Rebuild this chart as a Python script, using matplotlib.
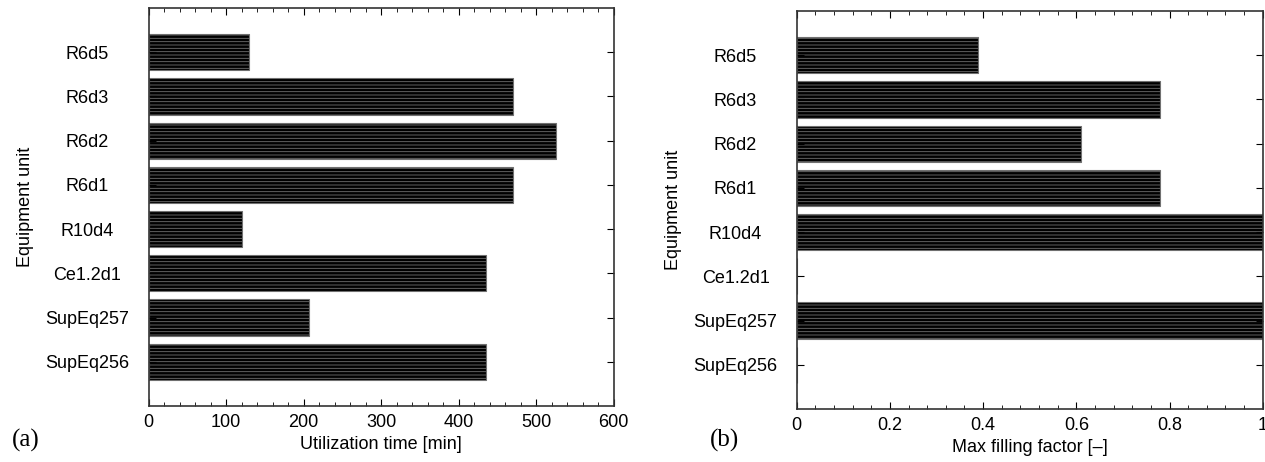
import matplotlib.pyplot as plt
from matplotlib.ticker import MultipleLocator, FormatStrFormatter

units = ['R6d5', 'R6d3', 'R6d2', 'R6d1', 'R10d4', 'Ce1.2d1', 'SupEq257', 'SupEq256']
util_time = [129, 470, 525, 470, 120, 435, 207, 435]
fill_factor = [0.388, 0.779, 0.610, 0.779, 1.0, 0.0, 1.0, 0.0]

plt.rcParams['font.family'] = ['Liberation Sans', 'DejaVu Sans']
plt.rcParams['hatch.color'] = '#444444'
plt.rcParams['hatch.linewidth'] = 0.6

fig = plt.figure(figsize=(12.65, 4.62), dpi=100)
ax1 = fig.add_axes([0.1175, 0.1212, 0.3676, 0.8615])
ax2 = fig.add_axes([0.6298, 0.1147, 0.3684, 0.8615])

ypos = list(range(len(units), 0, -1))


def style(ax, values, xlim, major, minor, xlabel):
    ax.barh(ypos, values, height=0.82, color='black', edgecolor='#707070',
            linewidth=0.8, hatch='-----')
    ax.set_xlim(*xlim)
    ax.set_ylim(0, len(units) + 1)
    ax.set_yticks(ypos)
    ax.set_yticklabels(units, ha='center', fontsize=13)
    ax.xaxis.set_major_locator(MultipleLocator(major))
    ax.xaxis.set_minor_locator(MultipleLocator(minor))
    ax.xaxis.set_major_formatter(FormatStrFormatter('%g'))
    ax.tick_params(axis='x', which='major', direction='in', length=5,
                   top=True, labelsize=13, pad=6)
    ax.tick_params(axis='x', which='minor', direction='in', length=3, top=True)
    ax.tick_params(axis='y', which='major', direction='in', length=5,
                   right=True, pad=44)
    ax.set_xlabel(xlabel, fontsize=13, labelpad=3)
    ax.set_ylabel('Equipment unit', fontsize=13, labelpad=8)
    for s in ax.spines.values():
        s.set_linewidth(1.2)
        s.set_color('#333333')


style(ax1, util_time, (0, 600), 100, 20, 'Utilization time [min]')
style(ax2, fill_factor, (0, 1), 0.2, 0.04, 'Max filling factor [\u2013]')

fig.text(12 / 1265, 1 - 440 / 462, '(a)', family='Liberation Serif',
         fontsize=18, va='center', ha='left')
fig.text(710 / 1265, 1 - 440 / 462, '(b)', family='Liberation Serif',
         fontsize=18, va='center', ha='left')

fig.savefig('out.png', dpi=100)
